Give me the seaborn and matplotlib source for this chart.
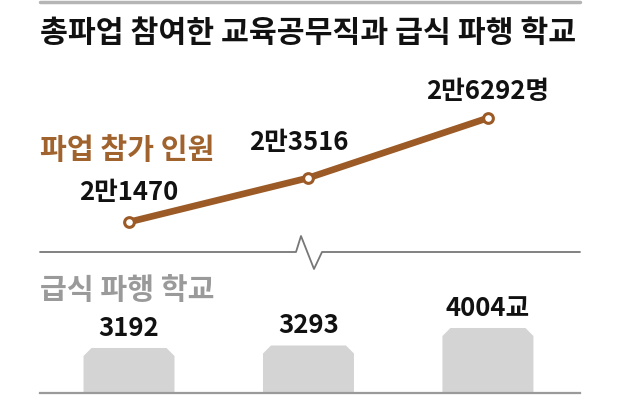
import numpy as np
import matplotlib.pyplot as plt
import seaborn as sns
from matplotlib.lines import Line2D
from matplotlib.patches import Polygon

# 데이터
rounds = ['1차', '2차', '3차']
strikers = [21470, 23516, 26292]
schools = [3192, 3293, 4004]
striker_labels = ['2만1470', '2만3516', '2만6292명']
school_labels = ['3192', '3293', '4004교']

title = '총파업 참여한 교육공무직과 급식 파행 학교'
strikers_name = '파업 참가 인원'
schools_name = '급식 파행 학교'

brown = '#9b5a26'
bar_gray = '#d4d4d4'

sns.set_theme(style='white')
plt.rcParams['font.family'] = ['Noto Sans CJK KR', 'DejaVu Sans']

W, H = 640, 402
fig = plt.figure(figsize=(6.4, 4.02), dpi=100)


def fx(px):
    return px / W


def fy(py):
    return 1 - py / H


xlim = (-0.496, 2.513)
top_ylim = (20682, 29027)
bot_ylim = (1365, 5181)

ax_top = fig.add_axes([fx(40), fy(240), fx(580) - fx(40), fy(60) - fy(240)])
ax_bot = fig.add_axes([fx(40), fy(394), fx(580) - fx(40), fy(300) - fy(394)])

# 파업 참가 인원 (선)
sns.lineplot(x=rounds, y=strikers, ax=ax_top, color=brown, lw=4.8,
             marker='o', markersize=7, markerfacecolor='white',
             markeredgecolor=brown, markeredgewidth=2.2)
ax_top.set_xlim(xlim)
ax_top.set_ylim(top_ylim)
ax_top.axis('off')

offsets = [(0, 22), (-7, 26), (0, 20)]
for i, (v, lab) in enumerate(zip(strikers, striker_labels)):
    ax_top.annotate(lab, (i, v), xytext=offsets[i], textcoords='offset points',
                    ha='center', va='center', fontsize=18.5, fontweight='bold',
                    color='#111111')

# 급식 파행 학교 (막대)
sns.barplot(x=rounds, y=schools, ax=ax_bot, color=bar_gray, width=0.507,
            linewidth=0, saturation=1)
ax_bot.set_xlim(xlim)
ax_bot.set_ylim(bot_ylim)

# 막대 윗모서리 깎기
dx = 8 * (xlim[1] - xlim[0]) / 540
dy = 8 * (bot_ylim[1] - bot_ylim[0]) / 94
for p in list(ax_bot.patches):
    x0, y0 = p.get_x(), p.get_y()
    w, h = p.get_width(), p.get_height()
    verts = [(x0, y0), (x0, y0 + h - dy), (x0 + dx, y0 + h),
             (x0 + w - dx, y0 + h), (x0 + w, y0 + h - dy), (x0 + w, y0)]
    p.remove()
    ax_bot.add_patch(Polygon(verts, closed=True, facecolor=bar_gray, lw=0))

for i, (v, lab) in enumerate(zip(schools, school_labels)):
    ax_bot.annotate(lab, (i, v), xytext=(0, 15), textcoords='offset points',
                    ha='center', va='center', fontsize=18.5, fontweight='bold',
                    color='#111111')

ax_bot.set_facecolor('none')
ax_bot.set_xlabel('')
ax_bot.set_ylabel('')
ax_bot.set_xticks([])
ax_bot.set_yticks([])
for s in ['left', 'right', 'top']:
    ax_bot.spines[s].set_visible(False)
ax_bot.spines['bottom'].set_color('#9a9a9a')
ax_bot.spines['bottom'].set_linewidth(1.6)

# 제목, 선, 범례 글씨
fig.add_artist(Line2D([fx(40), fx(580)], [fy(3), fy(3)], color='#b5b5b5', lw=2.5))
fig.text(fx(40), fy(33), title, ha='left', va='center', fontsize=21.8,
         fontweight='bold', color='#111111')
fig.text(fx(40), fy(150), strikers_name, ha='left', va='center', fontsize=21,
         fontweight='bold', color='#a0632e')
fig.text(fx(40), fy(290), schools_name, ha='left', va='center', fontsize=21,
         fontweight='bold', color='#9a9a9a')

# 생략 표시 (물결선)
zx = [40, 296, 301, 314, 322, 580]
zy = [253, 253, 237, 270, 253, 253]
fig.add_artist(Line2D([fx(v) for v in zx], [fy(v) for v in zy],
                      color='#777777', lw=1.3))

fig.savefig('out.png', dpi=100)
